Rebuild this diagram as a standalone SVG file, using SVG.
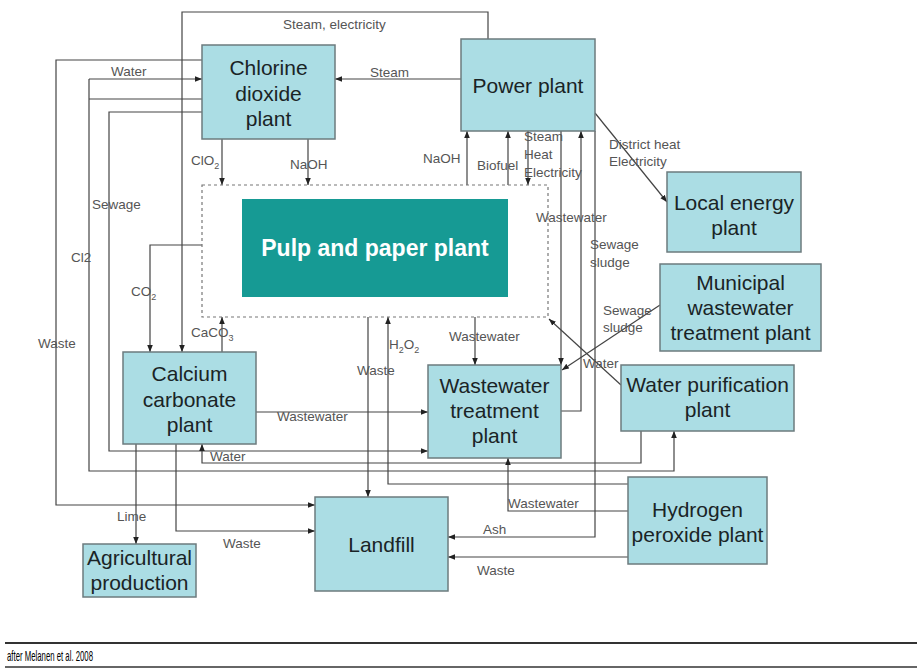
<svg xmlns="http://www.w3.org/2000/svg" width="917" height="668" viewBox="0 0 917 668">
<style>
.box{fill:#abdde4;stroke:#6c7b7e;stroke-width:1.5}
.nt{font-family:"Liberation Sans",Arial,sans-serif;font-size:21px;fill:#1a2426;text-anchor:middle}
.lb{font-family:"Liberation Sans",Arial,sans-serif;font-size:13.5px;fill:#555}
.sub{font-size:9px}
.c{fill:none;stroke:#444;stroke-width:1.2}
</style>
<defs>
<marker id="a" viewBox="0 0 10 10" refX="10" refY="5" markerWidth="7" markerHeight="7" markerUnits="userSpaceOnUse" orient="auto"><path d="M0,1 L10,5 L0,9 z" fill="#222"/></marker>
</defs>
<rect width="917" height="668" fill="#fff"/>

<g id="connectors">
<path class="c" d="M488,39 V12 H182 V352" marker-end="url(#a)"/>
<path class="c" d="M461,79 H335" marker-end="url(#a)"/>
<path class="c" d="M202,60 H56 V505 H315" marker-end="url(#a)"/>
<path class="c" d="M89,79 H202" marker-end="url(#a)"/>
<path class="c" d="M89,79 V471 H674 V431" marker-end="url(#a)"/>
<path class="c" d="M202,99 H89"/>
<path class="c" d="M202,112 H109 V451 H428" marker-end="url(#a)"/>
<path class="c" d="M222,139 V185" marker-end="url(#a)"/>
<path class="c" d="M308,139 V185" marker-end="url(#a)"/>
<path class="c" d="M202,245 H150 V352" marker-end="url(#a)"/>
<path class="c" d="M222,352 V317" marker-end="url(#a)"/>
<path class="c" d="M467,185 V131" marker-end="url(#a)"/>
<path class="c" d="M508,185 V131" marker-end="url(#a)"/>
<path class="c" d="M528,131 V185" marker-end="url(#a)"/>
<path class="c" d="M561,131 V365" marker-end="url(#a)"/>
<path class="c" d="M561,411 H581 V131" marker-end="url(#a)"/>
<path class="c" d="M595,131 V537 H448" marker-end="url(#a)"/>
<path class="c" d="M595,113 L667,202" marker-end="url(#a)"/>
<path class="c" d="M660,305 L562,370" marker-end="url(#a)"/>
<path class="c" d="M621,385 L549,319" marker-end="url(#a)"/>
<path class="c" d="M475,317 V365" marker-end="url(#a)"/>
<path class="c" d="M368,317 V497" marker-end="url(#a)"/>
<path class="c" d="M628,484 H388 V317" marker-end="url(#a)"/>
<path class="c" d="M256,412 H428" marker-end="url(#a)"/>
<path class="c" d="M641,431 V463 H202 V444" marker-end="url(#a)"/>
<path class="c" d="M136,444 V544" marker-end="url(#a)"/>
<path class="c" d="M176,444 V531 H315" marker-end="url(#a)"/>
<path class="c" d="M628,511 H508 V458" marker-end="url(#a)"/>
<path class="c" d="M628,557 H448" marker-end="url(#a)"/>
</g>

<g id="labels">
<text class="lb" x="283" y="29">Steam, electricity</text>
<text class="lb" x="370" y="77">Steam</text>
<text class="lb" x="111" y="76">Water</text>
<text class="lb" x="191" y="165">ClO<tspan class="sub" dy="4">2</tspan></text>
<text class="lb" x="290" y="169">NaOH</text>
<text class="lb" x="423" y="163">NaOH</text>
<text class="lb" x="477" y="170">Biofuel</text>
<text class="lb" x="524" y="141">Steam</text>
<text class="lb" x="524" y="159">Heat</text>
<text class="lb" x="524" y="177">Electricity</text>
<text class="lb" x="609" y="149">District heat</text>
<text class="lb" x="609" y="166">Electricity</text>
<text class="lb" x="536" y="222">Wastewater</text>
<text class="lb" x="590" y="249">Sewage</text>
<text class="lb" x="590" y="267">sludge</text>
<text class="lb" x="603" y="315">Sewage</text>
<text class="lb" x="603" y="332">sludge</text>
<text class="lb" x="583" y="368">Water</text>
<text class="lb" x="92" y="209">Sewage</text>
<text class="lb" x="71" y="262">Cl2</text>
<text class="lb" x="131" y="296">CO<tspan class="sub" dy="4">2</tspan></text>
<text class="lb" x="191" y="337">CaCO<tspan class="sub" dy="4">3</tspan></text>
<text class="lb" x="38" y="348">Waste</text>
<text class="lb" x="389" y="349">H<tspan class="sub" dy="4">2</tspan><tspan dy="-4">O</tspan><tspan class="sub" dy="4">2</tspan></text>
<text class="lb" x="357" y="375">Waste</text>
<text class="lb" x="449" y="341">Wastewater</text>
<text class="lb" x="277" y="421">Wastewater</text>
<text class="lb" x="210" y="461">Water</text>
<text class="lb" x="117" y="521">Lime</text>
<text class="lb" x="223" y="548">Waste</text>
<text class="lb" x="508" y="508">Wastewater</text>
<text class="lb" x="483" y="534">Ash</text>
<text class="lb" x="477" y="575">Waste</text>
</g>

<g id="pulp">
<rect x="202" y="185" width="346" height="132" fill="none" stroke="#777" stroke-width="1.2" stroke-dasharray="3,3"/>
<rect x="242" y="199" width="266" height="98" fill="#169a94"/>
<text x="375" y="256" font-family="'Liberation Sans',Arial,sans-serif" font-size="23" font-weight="bold" fill="#fff" text-anchor="middle">Pulp and paper plant</text>
</g>
<g id="chlorine">
<rect class="box" x="202" y="45" width="133" height="94"/>
<text class="nt" x="268.5" y="75">Chlorine</text>
<text class="nt" x="268.5" y="101">dioxide</text>
<text class="nt" x="268.5" y="126">plant</text>
</g>
<g id="power">
<rect class="box" x="461" y="39" width="134" height="92"/>
<text class="nt" x="528" y="93">Power plant</text>
</g>
<g id="local">
<rect class="box" x="667" y="172" width="134" height="80"/>
<text class="nt" x="734" y="210">Local energy</text>
<text class="nt" x="734" y="235">plant</text>
</g>
<g id="municipal">
<rect class="box" x="660" y="264" width="161" height="87"/>
<text class="nt" x="740.5" y="290">Municipal</text>
<text class="nt" x="740.5" y="315">wastewater</text>
<text class="nt" x="740.5" y="340">treatment plant</text>
</g>
<g id="waterpur">
<rect class="box" x="621" y="365" width="173" height="66"/>
<text class="nt" x="707.5" y="392">Water purification</text>
<text class="nt" x="707.5" y="417">plant</text>
</g>
<g id="calcium">
<rect class="box" x="123" y="352" width="133" height="92"/>
<text class="nt" x="189.5" y="381">Calcium</text>
<text class="nt" x="189.5" y="407">carbonate</text>
<text class="nt" x="189.5" y="432">plant</text>
</g>
<g id="wwtp">
<rect class="box" x="428" y="365" width="133" height="93"/>
<text class="nt" x="494.5" y="393">Wastewater</text>
<text class="nt" x="494.5" y="418">treatment</text>
<text class="nt" x="494.5" y="443">plant</text>
</g>
<g id="landfill">
<rect class="box" x="315" y="497" width="133" height="94"/>
<text class="nt" x="381.5" y="552">Landfill</text>
</g>
<g id="agri">
<rect class="box" x="83" y="544" width="113" height="53"/>
<text class="nt" x="139.5" y="565">Agricultural</text>
<text class="nt" x="139.5" y="590">production</text>
</g>
<g id="hydrogen">
<rect class="box" x="628" y="477" width="139" height="87"/>
<text class="nt" x="697.5" y="517">Hydrogen</text>
<text class="nt" x="697.5" y="542">peroxide plant</text>
</g>

<g id="footer">
<line x1="5" y1="643" x2="917" y2="643" stroke="#333" stroke-width="2"/>
<line x1="5" y1="667" x2="917" y2="667" stroke="#333" stroke-width="1.5"/>
<text x="7" y="661" font-family="'Liberation Sans Narrow','Liberation Sans',Arial,sans-serif" font-size="15" fill="#000" textLength="86" lengthAdjust="spacingAndGlyphs">after Melanen et al. 2008</text>
</g>
</svg>
